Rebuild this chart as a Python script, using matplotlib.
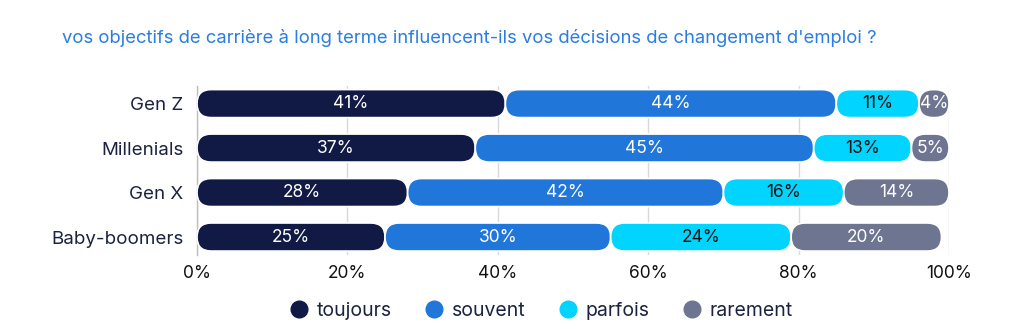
import numpy as np
import matplotlib.pyplot as plt
from matplotlib.patches import FancyBboxPatch
from matplotlib.lines import Line2D

plt.rcParams['font.family'] = ['Inter', 'DejaVu Sans']

# Réponses par génération (%)
generations = ['Gen Z', 'Millenials', 'Gen X', 'Baby-boomers']
toujours = [41, 37, 28, 25]
souvent = [44, 45, 42, 30]
parfois = [11, 13, 16, 24]
rarement = [4, 5, 14, 20]

series = ['toujours', 'souvent', 'parfois', 'rarement']
couleurs = ['#111a45', '#2176d9', '#00d4ff', '#6e7591']
couleurs_texte = ['white', 'white', '#111111', 'white']
ticks = [0, 20, 40, 60, 80, 100]

titre = "vos objectifs de carrière à long terme influencent-ils vos décisions de changement d'emploi ?"

fig = plt.figure(figsize=(10.24, 3.29), dpi=100)
ax = fig.add_axes([0.1924, 0.2255, 0.7344, 0.5137])

ax.set_xlim(0, 100)
ax.set_ylim(3.4, -0.4)
hauteur = 0.63

# échelle px par unité pour arrondir les extrémités
bbox = ax.get_window_extent()
px_x = bbox.width / 100.0
px_y = bbox.height / 3.8
aspect = px_x / px_y

y = np.arange(len(generations))
gauche = np.zeros(len(generations))
valeurs = [toujours, souvent, parfois, rarement]
for vals, col, ctxt in zip(valeurs, couleurs, couleurs_texte):
    vals = np.array(vals, dtype=float)
    barres = ax.barh(y, vals, left=gauche, height=hauteur, color='none')
    for b, v in zip(barres, vals):
        x0, y0 = b.get_x(), b.get_y()
        w, h = b.get_width(), b.get_height()
        r_px = min(h * px_y, w * px_x) / 2.0
        patch = FancyBboxPatch((x0, y0), w, h,
                               boxstyle=f"round,pad=0,rounding_size={r_px / px_x}",
                               mutation_aspect=aspect,
                               facecolor=col, edgecolor='white', linewidth=1.2,
                               zorder=3)
        ax.add_patch(patch)
        ax.text(x0 + w / 2, y0 + h / 2, f"{int(v)}%", ha='center', va='center',
                color=ctxt, fontsize=12.5, zorder=4)
    gauche += vals

ax.set_yticks(y)
ax.set_yticklabels(generations, fontsize=13.5, color='#1c2340')
ax.set_xticks(ticks)
ax.set_xticklabels([f"{t}%" for t in ticks], fontsize=12.5, color='#111111')
ax.tick_params(length=0, pad=7)
ax.tick_params(axis='y', pad=10)
ax.grid(axis='x', color='#d9d9d9', linewidth=1, zorder=0)
ax.set_axisbelow(True)
for s in ['top', 'right', 'bottom']:
    ax.spines[s].set_visible(False)
ax.spines['left'].set_color('#bdbdbd')
ax.spines['left'].set_linewidth(1)

fig.text(62 / 1024, 1 - 38 / 329, titre, color='#2a7de1', fontsize=13.3,
         ha='left', va='center')

poignees = [Line2D([0], [0], marker='o', linestyle='none', markersize=12,
                   markerfacecolor=c, markeredgecolor=c) for c in couleurs]
fig.legend(poignees, series, loc='center', bbox_to_anchor=(541 / 1024, 1 - 311 / 329),
           ncol=4, frameon=False, fontsize=14, handletextpad=0.43, columnspacing=1.66,
           labelcolor='#1c2340', handlelength=1.0)

fig.savefig('out.png', dpi=100)
